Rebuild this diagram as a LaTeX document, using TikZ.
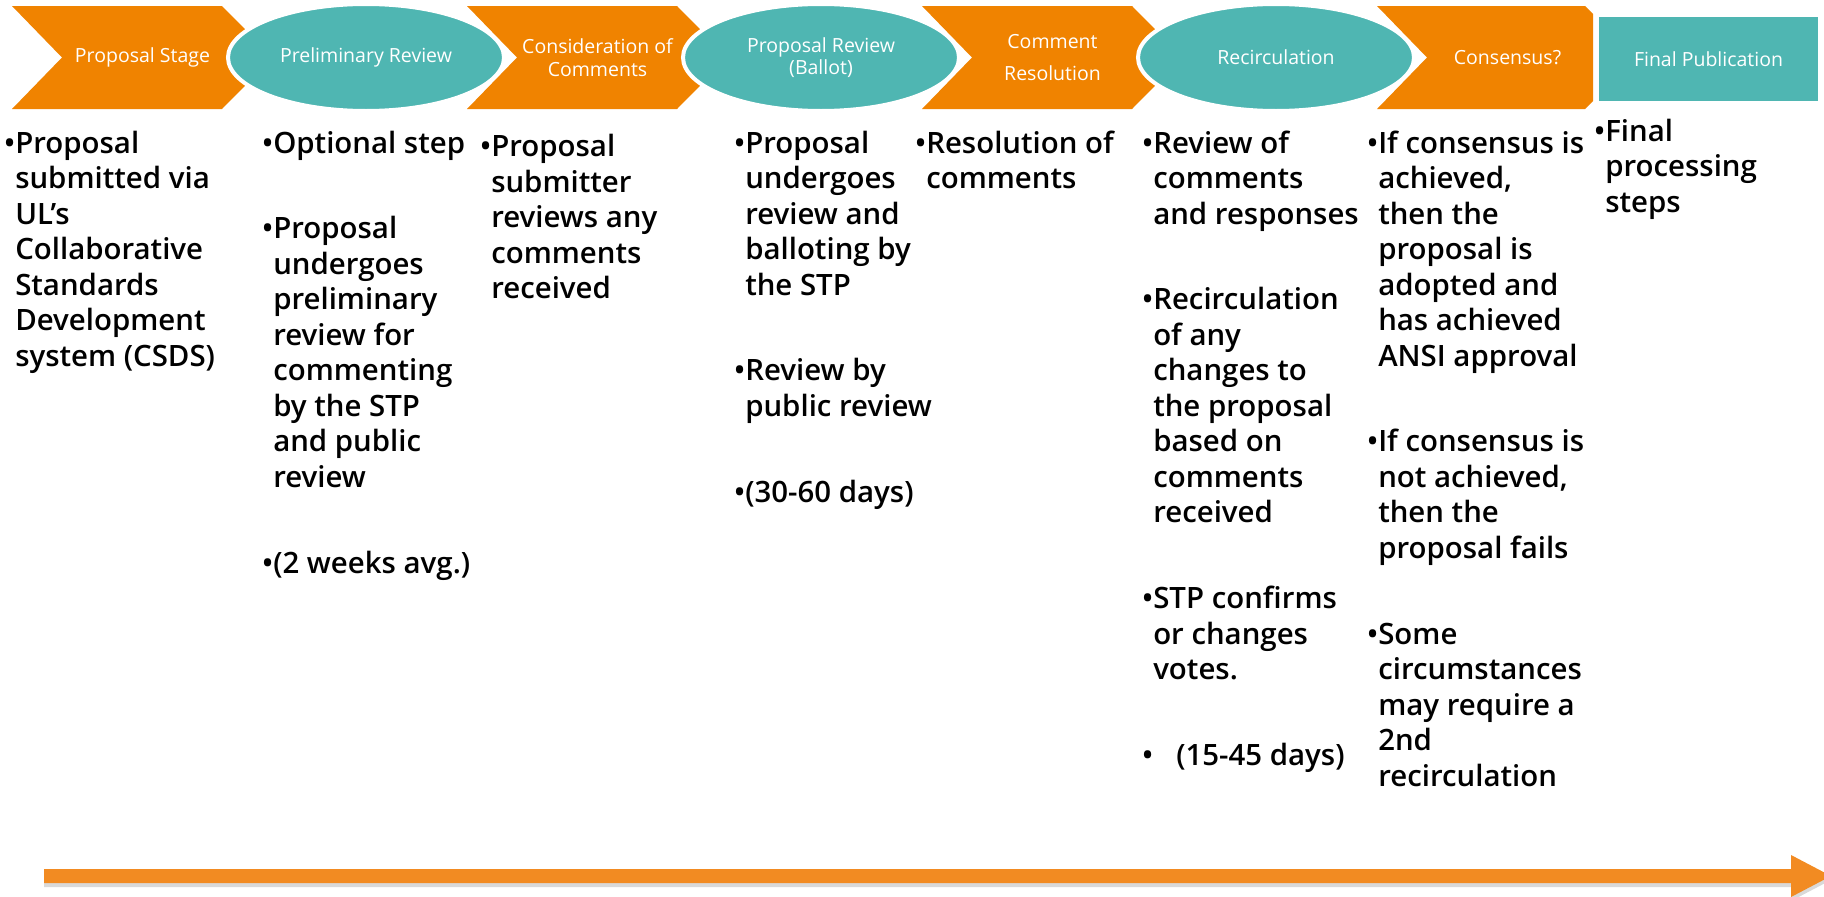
\documentclass[tikz,border=0pt]{standalone}
\usepackage{fontspec}
\setmainfont{Open Sans}
\newfontfamily\bodyfont{Open Sans Semibold}
\usetikzlibrary{positioning,shapes.geometric,shadows}

\definecolor{stageorange}{RGB}{240,131,0}
\definecolor{reviewteal}{RGB}{79,182,178}
\definecolor{timeorange}{RGB}{242,139,34}

\newcommand\blt[1]{\begin{tabular}[t]{@{}l@{}l@{}}•&\begin{tabular}[t]{@{}l@{}}#1\end{tabular}\end{tabular}}

\begin{document}
\begin{tikzpicture}[x=1pt,y=-1pt,
  stage/.style={fill=stageorange},
  review/.style={ellipse,fill=reviewteal,draw=white,line width=4pt,minimum width=276pt,minimum height=107pt,inner sep=0pt,outer sep=0pt},
  head/.style={text=white,align=center,font=\fontsize{19.5}{22.7}\selectfont},
  item/.style={inner sep=0pt,font=\bodyfont\fontsize{29.4}{35.5}\selectfont},
  under/.style={below=50pt of #1,anchor=north west}]
\useasboundingbox (0,0) rectangle (1824,897);
% stages
\foreach \x/\t [count=\i] in {12/Proposal Stage,467/{Consideration of\\Comments},922/{Comment\\[9pt]Resolution}} {
  \fill[stage] (\x,6) -- ++(210,0) -- ++(51,51.5) -- ++(-51,51.5) -- ++(-210,0) -- ++(50,-51.5) -- cycle;
  \node[head] (S\i) at (\x+130.5,57.5) {\t};
}
\fill[stage] (1377,6) -- (1585,6) -- (1593,14) -- (1593,101) -- (1585,109) -- (1377,109) -- (1427,57.5) -- cycle;
\node[head] (S4) at (1507.5,57.5) {Consensus?};
% reviews
\foreach \t [count=\i] in {Preliminary Review,{Proposal Review\\(Ballot)},Recirculation} {
  \node[review,head] (R\i) at (366+455*\i-455,57.5) {\t};
}
\node[fill=reviewteal,head,minimum width=219pt,minimum height=84pt,inner sep=0pt] (pub) at (1708.5,59) {Final Publication};

% steps
\node[item,anchor=base west] (sub) at (4,153) {\blt{Proposal\\submitted via\\UL’s\\Collaborative\\Standards\\Development\\system (CSDS)}};
\node[item,anchor=base west] (opt) at (262,153) {\blt{Optional step}};
\node[item,under=opt.south west] (pre) {\blt{Proposal\\undergoes\\preliminary\\review for\\commenting\\by the STP\\and public\\review}};
\node[item,under=pre.south west] (weeks) {\blt{(2 weeks avg.)}};
\node[item,anchor=base west] (subrev) at (480,156.5) {\blt{Proposal\\submitter\\reviews any\\comments\\received}};
\node[item,anchor=base west] (ballot) at (734,153) {\blt{Proposal\\undergoes\\review and\\balloting by\\the STP}};
\node[item,under=ballot.south west] (pubrev) {\blt{Review by\\public review}};
\node[item,under=pubrev.south west] (days1) {\blt{(30-60 days)}};
\node[item,anchor=base west] (res) at (915,153) {\blt{Resolution of\\comments}};
\node[item,anchor=base west] (revc) at (1142,153) {\blt{Review of\\comments\\and responses}};
\node[item,under=revc.south west] (recirc) {\blt{Recirculation\\of any\\changes to\\the proposal\\based on\\comments\\received}};
\node[item,under=recirc.south west] (votes) {\blt{STP confirms\\or changes\\votes.}};
\node[item,under=votes.south west] (days2) {\blt{\hspace{23pt}(15-45 days)}};
\node[item,anchor=base west] (yes) at (1367,153) {\blt{If consensus is\\achieved,\\then the\\proposal is\\adopted and\\has achieved\\ANSI approval}};
\node[item,under=yes.south west] (no) {\blt{If consensus is\\not achieved,\\then the\\proposal fails}};
\node[item,under=no.south west] (again) {\blt{Some\\circumstances\\may require a\\2nd\\recirculation}};
\node[item,anchor=base west] (fin) at (1594,141) {\blt{Final\\processing\\steps}};

% time line
\fill[timeorange,drop shadow={opacity=.3,shadow xshift=0pt,shadow yshift=-4pt}] (44,869) -- (1791,869) -- (1791,855) -- (1831,876) -- (1791,897) -- (1791,883) -- (44,883) -- cycle;
\end{tikzpicture}
\end{document}
